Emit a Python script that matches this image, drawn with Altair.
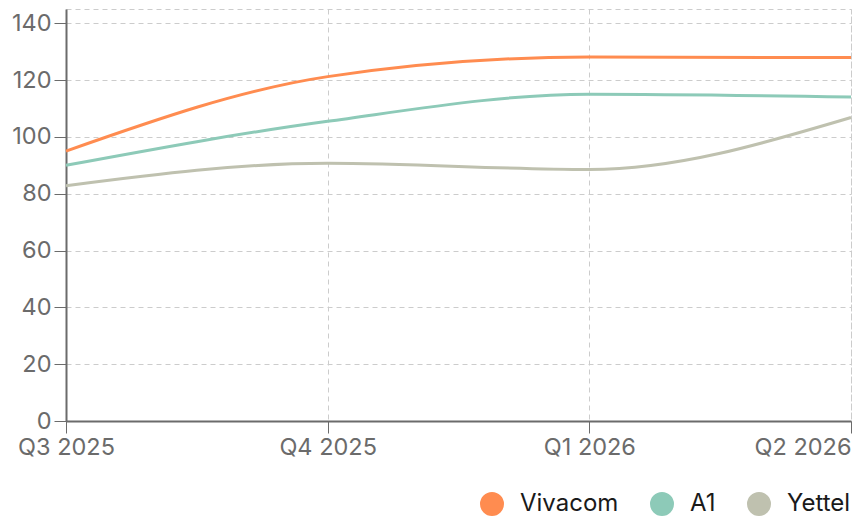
import altair as alt
import pandas as pd

quarters = ["Q3 2025", "Q4 2025", "Q1 2026", "Q2 2026"]
series = ["Vivacom", "A1", "Yettel"]
vivacom = [95, 121.2, 128.1, 127.9]
a1 = [90, 105.5, 115, 114]
yettel = [82.8, 90.7, 88.5, 106.8]
colors = ["#FF8C50", "#8DCAB8", "#BFC1AF"]

rows = []
for name, vals in zip(series, [vivacom, a1, yettel]):
    for q, v in zip(quarters, vals):
        rows.append({"quarter": q, "series": name, "value": v})
df = pd.DataFrame(rows)

FONT = "Inter"
AXIS_FS = 23.5
LEG_FS = 24

chart = alt.Chart(df).mark_line(
    interpolate="monotone", strokeWidth=3
).encode(
    x=alt.X(
        "quarter:N",
        sort=quarters,
        scale=alt.Scale(type="point", padding=0),
        axis=alt.Axis(
            title=None,
            labelAngle=0,
            grid=True,
            gridDash=[5, 4],
            gridColor="#cccccc",
            domainColor="#6b6b6b",
            tickColor="#6b6b6b",
            tickSize=12,
            domainWidth=2,
            labelPadding=2,
            labelAlign=alt.expr("datum.label == 'Q2 2026' ? 'right' : 'center'"),
        ),
    ),
    y=alt.Y(
        "value:Q",
        scale=alt.Scale(domain=[0, 145], nice=False),
        axis=alt.Axis(
            title=None,
            values=[0, 20, 40, 60, 80, 100, 120, 140],
            grid=True,
            gridDash=[5, 4],
            gridColor="#cccccc",
            domainColor="#6b6b6b",
            tickColor="#6b6b6b",
            tickSize=12,
            domainWidth=2,
            labelPadding=3,
        ),
    ),
    color=alt.Color(
        "series:N",
        sort=series,
        scale=alt.Scale(domain=series, range=colors),
        legend=alt.Legend(
            title=None,
            orient="none",
            direction="horizontal",
            legendX=414,
            legendY=483,
            symbolType="circle",
            symbolSize=144,
            symbolStrokeWidth=12,
            symbolOpacity=1,
            labelFontSize=LEG_FS,
            labelColor="#1a1a1a",
            labelFont=FONT,
            labelOffset=16,
            columnPadding=13,
        ),
    ),
).properties(
    width=785,
    height=412,
    autosize=alt.AutoSizeParams(type="none"),
    padding={"left": 58, "top": 1, "right": 9, "bottom": 97},
).configure_axis(
    labelFont=FONT,
    labelFontSize=AXIS_FS,
    labelColor="#6b6b6b",
).configure_view(
    stroke="#cccccc",
    strokeDash=[5, 4],
)

chart.save("out.html", embed_options={"renderer": "svg", "actions": False})
